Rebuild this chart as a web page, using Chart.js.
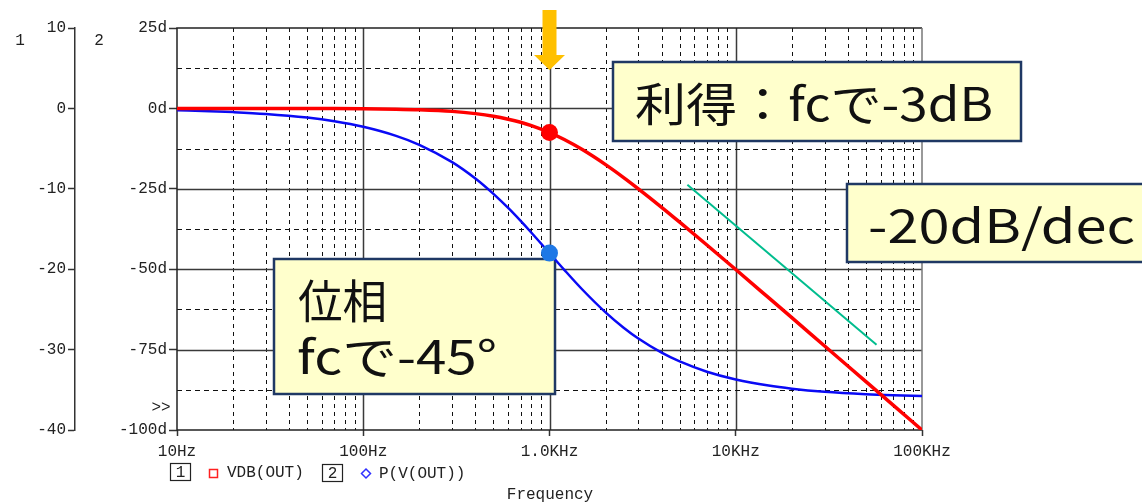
<!DOCTYPE html>
<html><head><meta charset="utf-8">
<script src="https://cdn.jsdelivr.net/npm/chart.js@4/dist/chart.umd.min.js"></script>
<style>html,body{margin:0;padding:0;background:#fff;overflow:hidden}canvas{display:block}</style>
</head><body>
<canvas id="c" width="1142" height="503"></canvas>
<script>
// ---- data ----
const freqHz   = [10,15,20,30,50,70,100,150,200,300,400,500,600,700,800,1000,1200,1500,2000,2500,3000,4000,5000,7000,10000,15000,20000,30000,50000,70000,100000];
const gainDb   = [0,-0.001,-0.002,-0.004,-0.011,-0.021,-0.043,-0.097,-0.17,-0.37,-0.65,-0.97,-1.34,-1.73,-2.15,-3.01,-3.87,-5.12,-6.99,-8.6,-10.0,-12.3,-14.15,-16.99,-20.04,-23.54,-26.03,-29.55,-33.98,-36.9,-40.0];
const phaseDeg = [-0.57,-0.86,-1.15,-1.72,-2.86,-4.0,-5.71,-8.53,-11.31,-16.7,-21.8,-26.57,-30.96,-34.99,-38.66,-45,-50.19,-56.31,-63.43,-68.2,-71.57,-75.96,-78.69,-81.87,-84.29,-86.19,-87.14,-88.09,-88.85,-89.18,-89.43];
const cutoffHz = 1000;
const cutoffGainDb = -3;
const cutoffPhaseDeg = -45;
const slopeHz = [5500, 57000];
const slopeDb = [-9.5, -29.4];
const xTickValues = [10, 100, 1000, 10000, 100000];
const xTickLabels = ['10Hz', '100Hz', '1.0KHz', '10KHz', '100KHz'];
const seriesNames = ['VDB(OUT)', 'P(V(OUT))'];
const axisNames = ['1', '2'];
const xTitle = 'Frequency';
const noteGain = '利得：fcで-3dB';
const noteSlope = '-20dB/dec';
const notePhase = ['位相', 'fcで-45°'];

const mono = '"Liberation Mono", "DejaVu Sans Mono", monospace';
const jp = '"Noto Sans CJK JP", "Noto Sans", sans-serif';

function fitText(ctx, txt, x, y, w, size) {
  ctx.save();
  ctx.font = size + 'px ' + jp;
  const m = ctx.measureText(txt).width;
  ctx.translate(x, y);
  ctx.scale(w / m, 1);
  ctx.textAlign = 'left';
  ctx.textBaseline = 'middle';
  ctx.fillStyle = '#111';
  ctx.fillText(txt, 0, 0);
  ctx.restore();
}
function noteBox(ctx, x, y, w, h) {
  ctx.save();
  ctx.fillStyle = '#FFFFCC';
  ctx.strokeStyle = '#1F3864';
  ctx.lineWidth = 2.5;
  ctx.fillRect(x, y, w, h);
  ctx.strokeRect(x, y, w, h);
  ctx.restore();
}

const bode = {
  id: 'bode',
  beforeDatasetsDraw(chart) {
    const {ctx, chartArea: a, scales: {x, y2}} = chart;
    ctx.save();
    // vertical grid
    for (let d = 10; d < 100000; d *= 10) {
      for (let m = 1; m < 10; m++) {
        const v = d * m;
        if (v === 10) continue;
        const px = Math.round(x.getPixelForValue(v)) + 0.5;
        ctx.beginPath();
        if (m === 1) { ctx.setLineDash([]); ctx.strokeStyle = '#3a3a3a'; ctx.lineWidth = 1.5; }
        else { ctx.setLineDash([4, 4]); ctx.strokeStyle = '#111'; ctx.lineWidth = 1; }
        ctx.moveTo(px, a.top); ctx.lineTo(px, a.bottom); ctx.stroke();
      }
    }
    // horizontal grid
    for (let v = 12.5; v > -100; v -= 12.5) {
      const py = Math.round(y2.getPixelForValue(v)) + 0.5;
      ctx.beginPath();
      if (v % 25 === 0) { ctx.setLineDash([]); ctx.strokeStyle = '#3a3a3a'; ctx.lineWidth = 1.5; }
      else { ctx.setLineDash([5, 4]); ctx.strokeStyle = '#111'; ctx.lineWidth = 1; }
      ctx.moveTo(a.left, py); ctx.lineTo(a.right, py); ctx.stroke();
    }
    ctx.setLineDash([]);
    // frame
    ctx.lineWidth = 1.5;
    ctx.strokeStyle = '#222';
    ctx.beginPath();
    ctx.moveTo(a.right, a.top); ctx.lineTo(a.left, a.top); ctx.lineTo(a.left, a.bottom); ctx.lineTo(a.right, a.bottom);
    ctx.stroke();
    ctx.strokeStyle = '#777';
    ctx.beginPath(); ctx.moveTo(a.right, a.top); ctx.lineTo(a.right, a.bottom); ctx.stroke();
    ctx.restore();

    // annotation boxes
    noteBox(ctx, 613, 62, 408, 79);
    fitText(ctx, noteGain, 635, 104, 358, 46);
    noteBox(ctx, 847, 184, 300, 78);
    fitText(ctx, noteSlope, 868, 226, 267, 46);
    noteBox(ctx, 274, 259, 281, 135);
    fitText(ctx, notePhase[0], 298, 301, 89, 46);
    fitText(ctx, notePhase[1], 297, 357, 200, 46);
  },
  afterDraw(chart) {
    const {ctx, chartArea: a, scales: {x}} = chart;
    ctx.save();
    // orange arrow at fc
    const ax = x.getPixelForValue(cutoffHz);
    ctx.fillStyle = '#FFC000';
    ctx.beginPath();
    ctx.moveTo(ax - 7, 10); ctx.lineTo(ax + 7, 10); ctx.lineTo(ax + 7, 55);
    ctx.lineTo(ax + 15.5, 55); ctx.lineTo(ax, 70); ctx.lineTo(ax - 15.5, 55);
    ctx.lineTo(ax - 7, 55); ctx.closePath(); ctx.fill();

    ctx.fillStyle = '#222';
    ctx.font = '16px ' + mono;
    ctx.textBaseline = 'middle';
    ctx.textAlign = 'center';
    ctx.fillText(axisNames[0], 20, 41);
    ctx.fillText(axisNames[1], 99, 41);
    ctx.fillText('>>', 161, 408);

    // legend
    ctx.strokeStyle = '#222'; ctx.lineWidth = 1.2;
    ctx.strokeRect(170.5, 463.5, 20, 17);
    ctx.fillText(axisNames[0], 180.5, 472.5);
    ctx.strokeRect(322.5, 464.5, 20, 17);
    ctx.fillText(axisNames[1], 332.5, 473.5);
    ctx.strokeStyle = '#ff2020'; ctx.lineWidth = 1.5;
    ctx.strokeRect(209.5, 469.5, 8, 8);
    ctx.strokeStyle = '#3030ff';
    ctx.beginPath();
    ctx.moveTo(366, 469); ctx.lineTo(370.5, 473.5); ctx.lineTo(366, 478); ctx.lineTo(361.5, 473.5); ctx.closePath(); ctx.stroke();
    ctx.textAlign = 'left';
    ctx.fillText(seriesNames[0], 227, 473);
    ctx.fillText(seriesNames[1], 379, 474);
    ctx.textAlign = 'center';
    ctx.fillText(xTitle, 550, 495);
    ctx.restore();
  }
};

const pts = (xs, ys) => xs.map((v, i) => ({x: v, y: ys[i]}));

new Chart(document.getElementById('c'), {
  type: 'line',
  data: {
    datasets: [
      {label: 'fc gain', data: [{x: cutoffHz, y: cutoffGainDb}], yAxisID: 'y1', pointRadius: 8.5, pointBackgroundColor: '#FF0000', pointBorderWidth: 0, showLine: false, clip: false},
      {label: 'fc phase', data: [{x: cutoffHz, y: cutoffPhaseDeg}], yAxisID: 'y2', pointRadius: 8.5, pointBackgroundColor: '#1E78E6', pointBorderWidth: 0, showLine: false, clip: false},
      {label: seriesNames[0], data: pts(freqHz, gainDb), yAxisID: 'y1', borderColor: '#FF0000', borderWidth: 3.5, pointRadius: 0, tension: 0.3, cubicInterpolationMode: 'monotone'},
      {label: seriesNames[1], data: pts(freqHz, phaseDeg), yAxisID: 'y2', borderColor: '#0A0AF5', borderWidth: 2.5, pointRadius: 0, cubicInterpolationMode: 'monotone'},
      {label: 'slope', data: pts(slopeHz, slopeDb), yAxisID: 'y1', borderColor: '#00BD8E', borderWidth: 2, pointRadius: 0}
    ]
  },
  options: {
    responsive: false,
    animation: false,
    events: [],
    layout: {padding: {top: 28, right: 220, bottom: 0, left: 0}},
    plugins: {legend: {display: false}, tooltip: {enabled: false}},
    scales: {
      x: {
        type: 'logarithmic', min: 10, max: 100000, position: 'bottom',
        afterBuildTicks: s => { s.ticks = xTickValues.map(v => ({value: v})); },
        afterFit: s => { s.height = 73; },
        ticks: {callback: (v, i) => xTickLabels[i], font: {family: mono, size: 16}, color: '#222', padding: 6, maxRotation: 0, autoSkip: false},
        grid: {drawOnChartArea: false, drawTicks: true, tickLength: 6, tickColor: '#333', tickWidth: 1.5},
        border: {display: false}
      },
      y1: {
        position: 'left', min: -40, max: 10, weight: 1,
        afterFit: s => { s.width = 75; },
        ticks: {stepSize: 10, callback: v => String(v), font: {family: mono, size: 16}, color: '#222', padding: 2},
        grid: {drawOnChartArea: false, drawTicks: true, tickLength: 7, tickColor: '#333', tickWidth: 1.5},
        border: {display: true, color: '#333', width: 1.5}
      },
      y2: {
        position: 'left', min: -100, max: 25, weight: 0,
        afterFit: s => { s.width = 102; },
        ticks: {stepSize: 25, callback: v => v + 'd', font: {family: mono, size: 16}, color: '#222', padding: 2},
        grid: {drawOnChartArea: false, drawTicks: true, tickLength: 8, tickColor: '#333', tickWidth: 1.5},
        border: {display: false}
      }
    }
  },
  plugins: [bode]
});
</script>
</body></html>
